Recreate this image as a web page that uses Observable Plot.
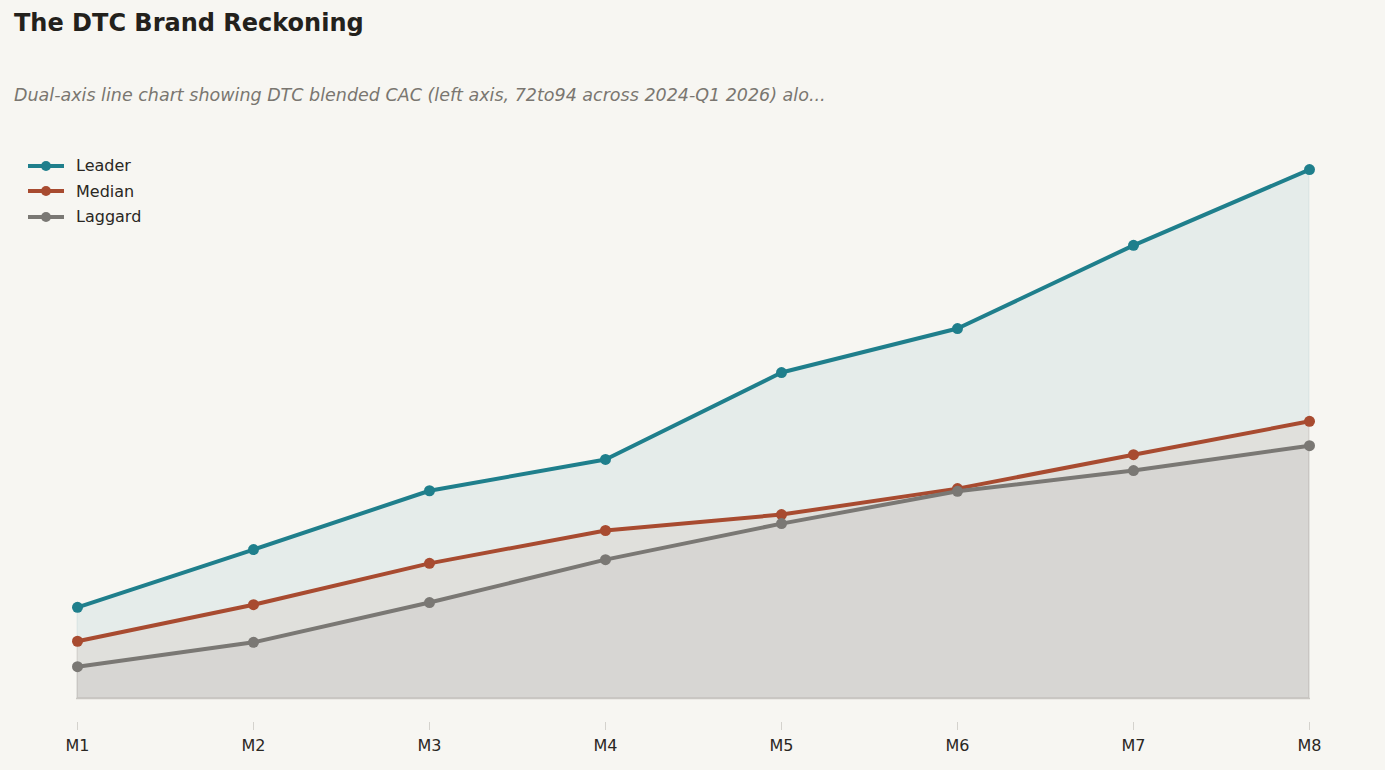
<!DOCTYPE html>
<html>
<head>
<meta charset="utf-8">
<script src="https://cdn.jsdelivr.net/npm/d3@7"></script>
<script src="https://cdn.jsdelivr.net/npm/@observablehq/plot@0.6"></script>
<style>
  html, body { margin: 0; padding: 0; background: #f7f6f2; }
  body { width: 1385px; height: 770px; position: relative; overflow: hidden; font-family: "DejaVu Sans", sans-serif; }
  #title { position: absolute; left: 14px; top: 9px; font-size: 24px; font-weight: bold; color: #23211c; }
  #subtitle { position: absolute; left: 14px; top: 85px; font-size: 17.5px; font-style: italic; color: #7a7670; }
  #chart { position: absolute; left: 0; top: 140px; }
  #legend { position: absolute; left: 28px; top: 153px; font-size: 16px; color: #2a2723; }
  .item { display: flex; align-items: center; height: 25.5px; }
  .item svg { margin-right: 12px; }
</style>
</head>
<body>
<div id="title">The DTC Brand Reckoning</div>
<div id="subtitle">Dual-axis line chart showing DTC blended CAC (left axis, 72to94 across 2024-Q1 2026) alo...</div>
<div id="chart"></div>
<div id="legend"></div>
<script>
const months = ["M1", "M2", "M3", "M4", "M5", "M6", "M7", "M8"];
const seriesNames = ["Leader", "Median", "Laggard"];
const leader  = [17.2, 28.1, 39.2, 45.1, 61.5, 69.8, 85.5, 99.8];
const median  = [10.8, 17.7, 25.5, 31.7, 34.7, 39.6, 46.0, 52.3];
const laggard = [6.0, 10.6, 18.1, 26.2, 33.0, 39.1, 43.0, 47.7];
const colors = ["#1f7f8c", "#a84b30", "#7a7874"];
const areaOpacity = [0.08, 0.07, 0.085];

const valuesBySeries = [leader, median, laggard];
const data = seriesNames.flatMap((s, i) => months.map((m, j) => ({series: s, month: m, value: valuesBySeries[i][j]})));

const marks = [];
seriesNames.forEach((s, i) => {
  marks.push(Plot.areaY(data.filter(d => d.series === s), {
    x: "month", y: "value", fill: colors[i], fillOpacity: areaOpacity[i],
    stroke: colors[i], strokeOpacity: 0.06, strokeWidth: 1.5
  }));
});
marks.push(Plot.ruleY([0], {stroke: "#c9c7c2", strokeWidth: 1.5}));
seriesNames.forEach((s, i) => {
  const rows = data.filter(d => d.series === s);
  marks.push(Plot.lineY(rows, {x: "month", y: "value", stroke: colors[i], strokeWidth: 4}));
  marks.push(Plot.dot(rows, {x: "month", y: "value", fill: colors[i], r: 5.5}));
});
marks.push(Plot.axisX({tickSize: 8, tickPadding: 9, stroke: "#d4d2cd", fill: "#2a2723", fontSize: 16}));

const chart = Plot.plot({
  width: 1385,
  height: 630,
  marginLeft: 76,
  marginRight: 75,
  marginTop: 28,
  marginBottom: 48,
  insetBottom: 24,
  style: {background: "transparent", fontFamily: "DejaVu Sans, sans-serif", fontSize: "16px", color: "#2a2723"},
  x: {type: "point", domain: months, padding: 0, label: null},
  y: {domain: [0, 100], axis: null},
  marks
});
document.getElementById("chart").appendChild(chart);

const legend = document.getElementById("legend");
seriesNames.forEach((s, i) => {
  const item = document.createElement("div");
  item.className = "item";
  item.innerHTML = `<svg width="36" height="14"><line x1="0" y1="7" x2="36" y2="7" stroke="${colors[i]}" stroke-width="4"/><circle cx="18" cy="7" r="5" fill="${colors[i]}"/></svg><span>${s}</span>`;
  legend.appendChild(item);
});
</script>
</body>
</html>
